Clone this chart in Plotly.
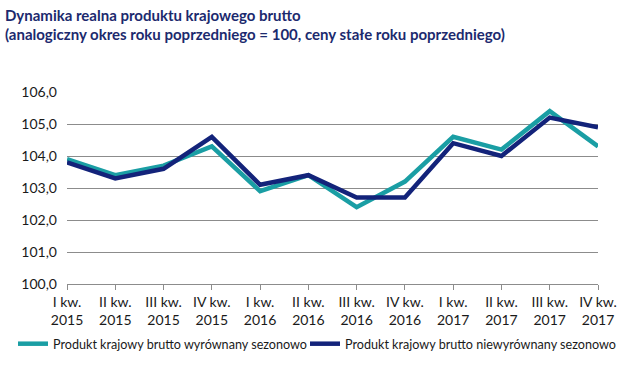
import plotly.graph_objects as go

quarters = ["I kw.<br>2015", "II kw.<br>2015", "III kw.<br>2015", "IV kw.<br>2015",
            "I kw.<br>2016", "II kw.<br>2016", "III kw.<br>2016", "IV kw.<br>2016",
            "I kw.<br>2017", "II kw.<br>2017", "III kw.<br>2017", "IV kw.<br>2017"]
sa = [103.9, 103.4, 103.7, 104.3, 102.9, 103.4, 102.4, 103.2, 104.6, 104.2, 105.4, 104.3]
nsa = [103.8, 103.3, 103.6, 104.6, 103.1, 103.4, 102.7, 102.7, 104.4, 104.0, 105.2, 104.9]
y_ticks = [100, 101, 102, 103, 104, 105, 106]
y_ticklabels = ["100,0", "101,0", "102,0", "103,0", "104,0", "105,0", "106,0"]
names = ["Produkt krajowy brutto wyrównany sezonowo", "Produkt krajowy brutto niewyrównany sezonowo"]
title1 = "Dynamika realna produktu krajowego brutto"
title2 = "(analogiczny okres roku poprzedniego = 100, ceny stałe roku poprzedniego)"

xs = list(range(len(quarters)))

W, H = 630, 365
L, R, T, B = 67, 32, 92, 81
pw, ph = W - L - R, H - T - B

fig = go.Figure()
fig.add_trace(go.Scatter(x=xs, y=sa, mode="lines", name=names[0], legend="legend",
                         line=dict(color="#1a9ea4", width=4.5)))
fig.add_trace(go.Scatter(x=xs, y=nsa, mode="lines", name=names[1], legend="legend2",
                         line=dict(color="#13237a", width=4.5)))

title_color = "#1c2a6e"
for txt, yc in ((title1, 15), (title2, 34)):
    fig.add_annotation(text="<b>" + txt + "</b>", xref="paper", yref="paper",
                       x=(3 - L) / pw, y=(H - B - yc) / ph, xanchor="left", yanchor="middle",
                       showarrow=False, font=dict(family="Lato", size=15, color=title_color))

leg_common = dict(orientation="h", xref="paper", yref="paper",
                  y=(H - B - 344) / ph, xanchor="left", yanchor="middle",
                  font=dict(family="Lato", size=12.6, color="#1a1a1a"),
                  bgcolor="rgba(0,0,0,0)", itemwidth=30)

fig.update_layout(
    width=W, height=H,
    margin=dict(l=L, r=R, t=T, b=B, autoexpand=False),
    paper_bgcolor="white", plot_bgcolor="white",
    font=dict(family="Lato", size=14, color="#1a1a1a"),
    showlegend=True,
    legend=dict(x=(13 - L) / pw, **leg_common),
    legend2=dict(x=(305 - L) / pw, **leg_common),
    xaxis=dict(range=[0, 11], tickmode="array", tickvals=xs, ticktext=quarters,
               showgrid=False, zeroline=False, showline=True, linecolor="#8c8c8c",
               linewidth=1, ticks="outside", ticklen=5, tickcolor="#8c8c8c",
               tickfont=dict(size=14), automargin=False),
    yaxis=dict(range=[100, 106], tickmode="array", tickvals=y_ticks, ticktext=y_ticklabels,
               showgrid=True, gridcolor="#8c8c8c", gridwidth=1, zeroline=False,
               showline=False, ticks="", ticklabelstandoff=9, tickfont=dict(size=14),
               automargin=False),
)

fig.write_html("out.html", config={"displayModeBar": False},
               post_script="document.body.style.margin='0';document.body.style.overflow='hidden';")
